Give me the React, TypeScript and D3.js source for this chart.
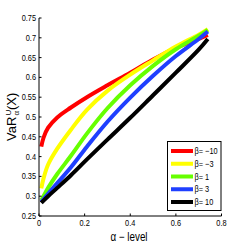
import * as d3 from "d3";

const alphas = [0.01, 0.02, 0.04, 0.08, 0.14, 0.21, 0.3, 0.4, 0.5, 0.6, 0.7, 0.74];
const betaLabels = ["β= −10", "β= −3", "β= 1", "β= 3", "β= 10"];
const colors = ["#ff0000", "#ffff00", "#66ff00", "#1f3fff", "#000000"];
const redVals = [0.425, 0.448, 0.473, 0.499, 0.524, 0.55, 0.58, 0.612, 0.645, 0.675, 0.697, 0.707];
const yellowVals = [0.32, 0.345, 0.38, 0.42, 0.468, 0.518, 0.566, 0.607, 0.643, 0.678, 0.708, 0.722];
const greenVals = [0.29, 0.3, 0.321, 0.356, 0.402, 0.458, 0.522, 0.58, 0.629, 0.671, 0.705, 0.72];
const blueVals = [0.285, 0.292, 0.306, 0.333, 0.373, 0.425, 0.488, 0.549, 0.604, 0.654, 0.697, 0.716];
const blackVals = [0.283, 0.289, 0.3, 0.321, 0.353, 0.393, 0.443, 0.498, 0.555, 0.612, 0.67, 0.697];
const series = [redVals, yellowVals, greenVals, blueVals, blackVals];
const xTicks = [0, 0.2, 0.4, 0.6, 0.8];
const yTicks = [0.25, 0.3, 0.35, 0.4, 0.45, 0.5, 0.55, 0.6, 0.65, 0.7, 0.75];

const FONT = "'Liberation Sans', Arial, sans-serif";

function T({ x, y, size, anchor = "start", sx = 0.82, children }: any) {
  return (
    <text
      transform={`translate(${x},${y}) scale(${sx},1)`}
      fontSize={size}
      textAnchor={anchor}
      fill="#000"
    >
      {children}
    </text>
  );
}

export default function App() {
  const x = d3.scaleLinear().domain([0, 0.8]).range([39, 221.5]);
  const y = d3.scaleLinear().domain([0.25, 0.75]).range([216, 18]);

  const line = d3
    .line<number>()
    .x((_, i) => x(alphas[i]))
    .y((d) => y(d))
    .curve(d3.curveCatmullRom.alpha(0.5));

  const legendX = 167.5;
  const legendY = 141.5;
  const legendW = 53.5;
  const legendH = 69;

  return (
    <svg
      width={245}
      height={245}
      style={{ position: "absolute", left: 0, top: 0, background: "#fff" }}
      fontFamily={FONT}
    >
      <rect width={245} height={245} fill="#fff" />

      {/* curves */}
      {series.map((vals, k) => (
        <path
          key={k}
          d={line(vals) ?? ""}
          fill="none"
          stroke={colors[k]}
          strokeWidth={4}
          strokeLinejoin="round"
        />
      ))}

      {/* axes */}
      <line x1={x(0)} x2={x(0.8)} y1={216} y2={216} stroke="#000" strokeWidth={1} />
      <line x1={39} x2={39} y1={18} y2={216} stroke="#000" strokeWidth={1} />
      {xTicks.map((t) => (
        <g key={t}>
          <line x1={x(t)} x2={x(t)} y1={216} y2={213.5} stroke="#000" />
          <T x={x(t)} y={226} size={9} anchor="middle">
            {String(t)}
          </T>
        </g>
      ))}
      {yTicks.map((t) => (
        <g key={t}>
          <line x1={39} x2={41.5} y1={y(t)} y2={y(t)} stroke="#000" />
          <T x={36} y={y(t) + 3} size={9} anchor="end">
            {String(+t.toFixed(2))}
          </T>
        </g>
      ))}

      {/* axis labels */}
      <T x={129} y={241} size={12} anchor="middle">
        α − level
      </T>
      <g transform="translate(16,117) rotate(-90)">
        <T x={-24} y={0} size={13} sx={1}>VaR</T>
        <T x={1.5} y={-5.5} size={8} sx={1}>U</T>
        <T x={1.5} y={3} size={8} sx={1}>α</T>
        <T x={7} y={0} size={13} sx={1}>(X)</T>
      </g>

      {/* legend */}
      <rect
        x={legendX}
        y={legendY}
        width={legendW}
        height={legendH}
        fill="#fff"
        stroke="#000"
        strokeWidth={1}
      />
      {betaLabels.map((lab, k) => {
        const ly = 151 + k * 12.75;
        return (
          <g key={lab}>
            <line x1={171} x2={193} y1={ly} y2={ly} stroke={colors[k]} strokeWidth={4} />
            <T x={194.5} y={ly + 3} size={9}>
              {lab}
            </T>
          </g>
        );
      })}
    </svg>
  );
}
